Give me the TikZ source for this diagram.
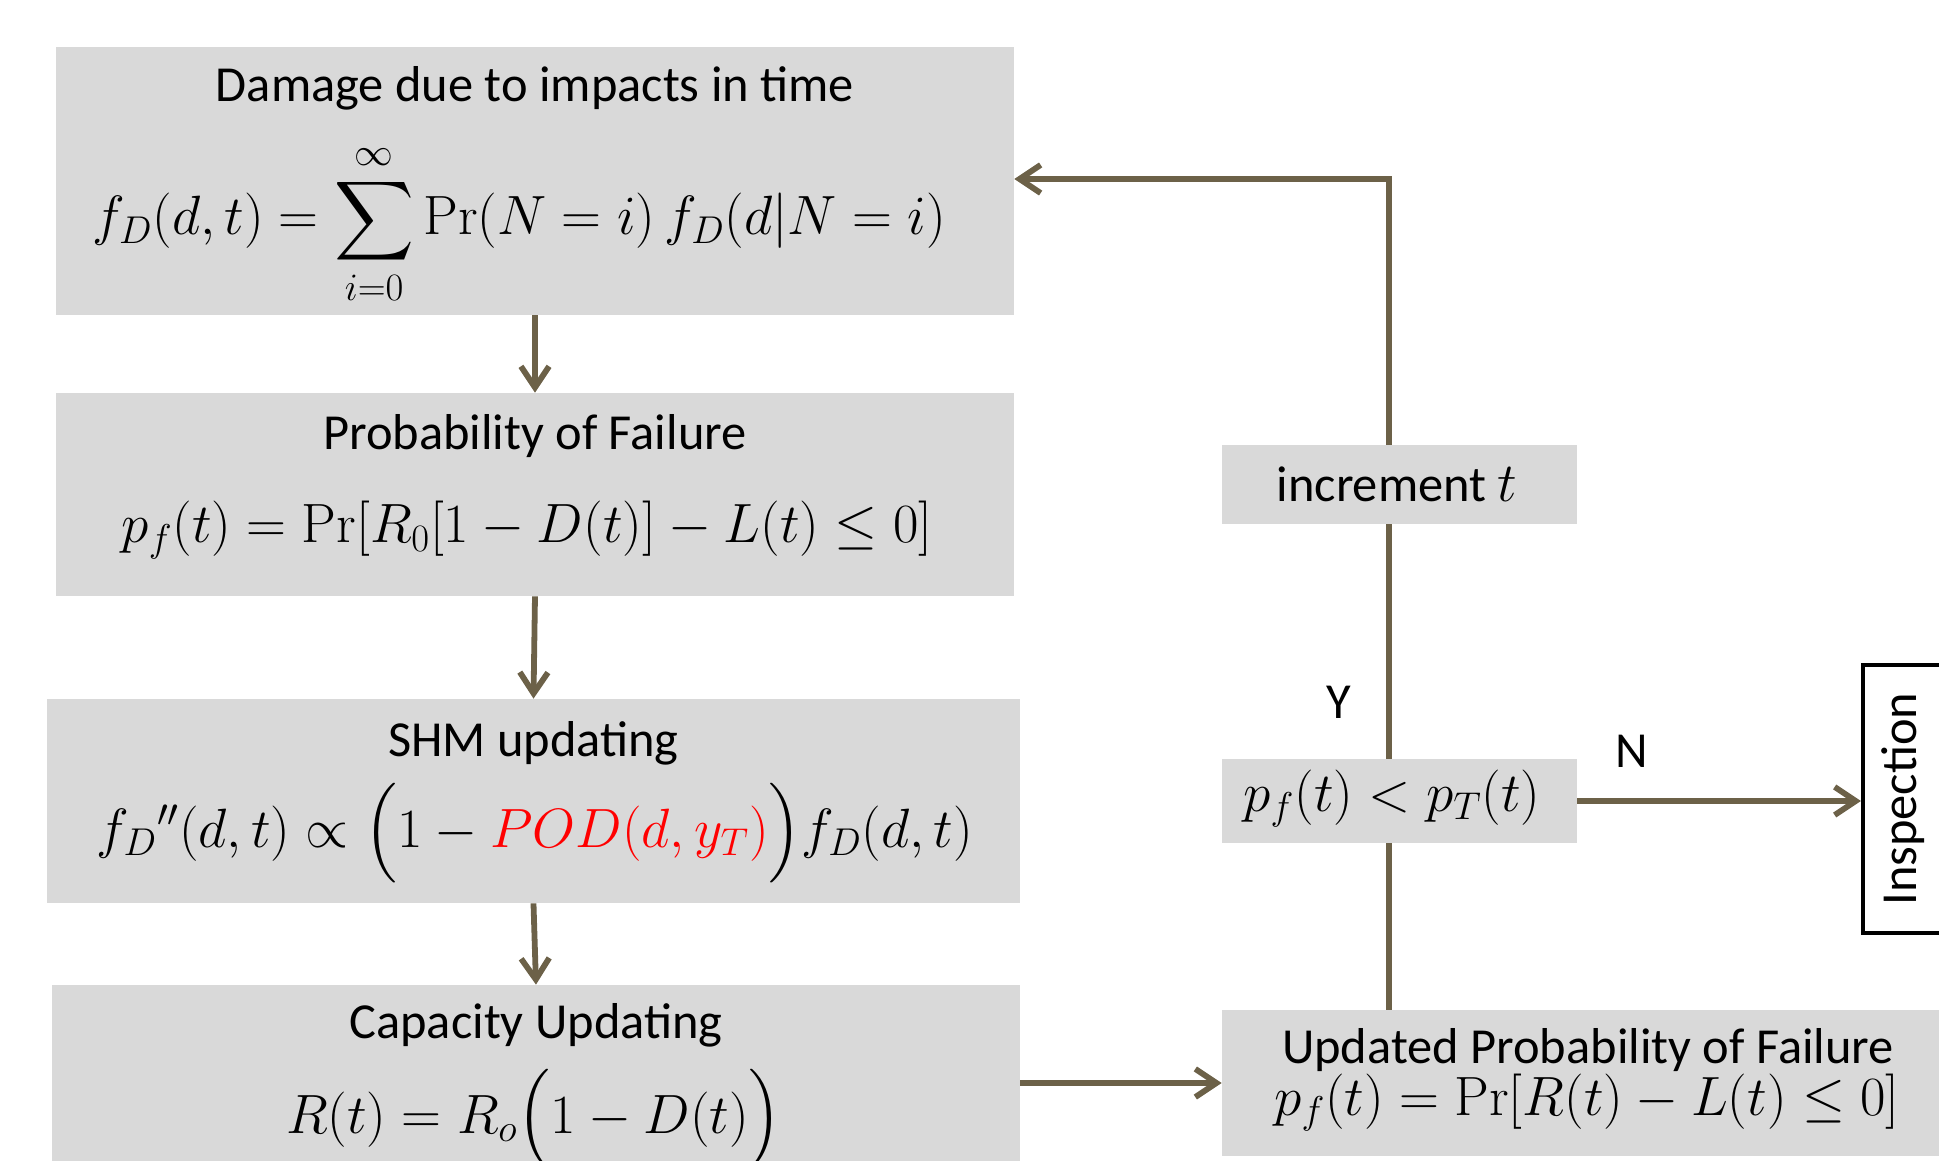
\RequirePackage{fix-cm}
\documentclass[tikz,border=0pt]{standalone}
\usepackage{amsmath}
\usepackage{amssymb}
\usepackage[no-math]{fontspec}
\setmainfont{Carlito}
\usepackage{xcolor}
\usetikzlibrary{arrows.meta}
\definecolor{flowline}{RGB}{108,97,72}
\definecolor{boxgray}{RGB}{217,217,217}
\newcommand{\boxfont}{\fontsize{28.7}{34}\selectfont}
\newcommand{\eqfont}{\fontsize{31.5}{38}\selectfont}

\begin{document}
\begin{tikzpicture}[scale=0.2]
	\tikzstyle{every node}+=[font=\boxfont]
	\tikzstyle{stage}=[fill=boxgray, inner sep=0pt]
	\tikzstyle{line}=[anchor=base, inner sep=0pt]
	\tikzstyle{flow}=[draw=flowline, line width=3.3pt, -{Straight Barb[length=12pt,width=16pt]}]
	\tikzstyle{link}=[draw=flowline, line width=3.3pt]
	\useasboundingbox (0,0) rectangle (193.9,-116.1);
	% left column
	\node [stage, minimum width=95.8*0.2cm, minimum height=26.8*0.2cm] (damage) at (53.5,-18.1) {};
	\node [line] (damage-title) at (53.5,-10.2) {Damage due to impacts in time};
	\node [line, font=\eqfont] (damage-eq) at (51.9,-23.5)
		{$\displaystyle f_D(d,t)=\sum_{i=0}^{\infty}\Pr(N=i)\,f_D(d|N=i)$};
	\node [stage, minimum width=95.8*0.2cm, minimum height=20.3*0.2cm] (pfail) at (53.5,-49.45) {};
	\node [line] (pfail-title) at (53.5,-45.0) {Probability of Failure};
	\node [line, font=\eqfont] (pfail-eq) at (52.7,-54.3) {$p_f(t)=\Pr[R_0[1-D(t)]-L(t)\le 0]$};
	\node [stage, minimum width=97.3*0.2cm, minimum height=20.4*0.2cm] (shm) at (53.35,-80.1) {};
	\node [line] (shm-title) at (53.35,-75.6) {SHM updating};
	\node [line, font=\eqfont] (shm-eq) at (53.5,-84.7)
		{$f_D{}''(d,t)\propto\Bigl(1-\textcolor{red}{POD(d,y_T)}\Bigr)f_D(d,t)$};
	\node [stage, minimum width=96.8*0.2cm, minimum height=19.5*0.2cm] (capacity) at (53.6,-108.25) {};
	\node [line] (capacity-title) at (53.6,-103.8) {Capacity Updating};
	\node [line, font=\eqfont] (capacity-eq) at (53.4,-113.3) {$R(t)=R_o\Bigl(1-D(t)\Bigr)$};
	% right column
	\node [stage, minimum width=35.5*0.2cm, minimum height=7.9*0.2cm] (incr) at (139.95,-48.45) {};
	\node [line] (incr-text) at (139.7,-50.2) {increment {\eqfont$t$}};
	\node [stage, minimum width=35.5*0.2cm, minimum height=8.4*0.2cm] (check) at (139.95,-80.1) {};
	\node [line, font=\eqfont] (check-eq) at (139.2,-81.1) {$p_f(t)<p_T(t)$};
	\node [stage, minimum width=73.2*0.2cm, minimum height=14.6*0.2cm] (updated) at (158.8,-108.3) {};
	\node [line] (updated-title) at (158.8,-106.3) {Updated Probability of Failure};
	\node [line, font=\eqfont] (updated-eq) at (158.7,-111.5) {$p_f(t)=\Pr[R(t)-L(t)\le 0]$};
	\node [draw=black, line width=2.3pt, minimum width=8*0.2cm, minimum height=26.8*0.2cm] (inspect) at (190.3,-79.9) {};
	\node [rotate=90] (inspect-text) at (inspect.center) {Inspection};
	\node (yes) at (133.9,-70.2) {Y};
	\node (no) at (163.2,-75.1) {N};
	\coordinate (loop) at (138.9,-17.9);
	% connectors
	\draw [flow] (damage.south) -- (pfail.north);
	\draw [flow] (pfail.south) -- (shm.north);
	\draw [flow] (shm.south) -- (capacity.north);
	\draw [flow] (updated.west -| capacity.east) -- (updated.west);
	\draw [link] (updated.north -| loop) -- (check.south -| loop);
	\draw [link] (check.north -| loop) -- (incr.south -| loop);
	\draw [flow] (incr.north -| loop) -- (loop) -- (loop -| damage.east);
	\draw [flow] (check.east) -- (check.east -| inspect.west);
\end{tikzpicture}
\end{document}
